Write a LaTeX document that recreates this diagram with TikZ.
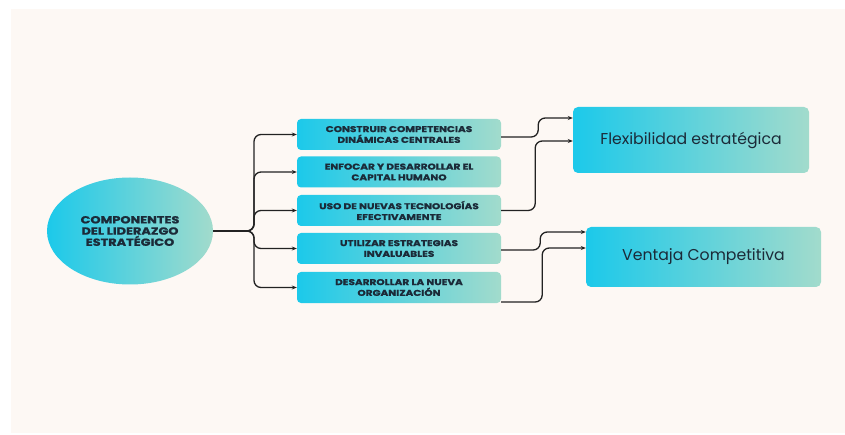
\documentclass[tikz,border=0pt]{standalone}
\usepackage{fontspec}
\setmainfont{Poppins}
\newfontfamily\heavy[FakeStretch=1.25,FakeBold=1.3]{Poppins}
\usetikzlibrary{arrows.meta,shapes.geometric}
\definecolor{cream}{HTML}{FDF8F4}
\definecolor{cyanL}{HTML}{1CC9EA}
\definecolor{mintR}{HTML}{A2DBCC}
\definecolor{ink}{HTML}{1B2A38}
\definecolor{wire}{HTML}{222222}
\begin{document}
\begin{tikzpicture}[x=1pt,y=-1pt,
  smallbox/.style={rectangle, rounded corners=4pt, minimum width=204pt, minimum height=31pt, inner sep=0pt,
    left color=cyanL, right color=mintR, align=center, text=ink,
    font=\heavy\bfseries\fontsize{8.4}{10.8}\selectfont},
  bigbox/.style={rectangle, rounded corners=5pt, inner sep=0pt,
    left color=cyanL, right color=mintR, align=center, text=ink,
    font=\fontsize{15.7}{18}\selectfont},
  hub/.style={ellipse, minimum width=166pt, minimum height=107pt, inner sep=0pt,
    left color=cyanL, right color=mintR, align=center, text=ink,
    font=\heavy\bfseries\fontsize{10.3}{11.2}\selectfont},
  conn/.style={draw=wire, line width=1.3pt, rounded corners=7pt,
    -{Stealth[length=5pt,width=4pt]}}
]
\useasboundingbox (0,0) rectangle (845,435);
\fill[white] (0,0) rectangle (845,435);
\fill[cream] (11,9) rectangle (845,433);

\node[hub] (ell) at (130,231) {COMPONENTES\\DEL LIDERAZGO\\ESTRATÉGICO};

\node[smallbox] (b1) at (399,134.5) {CONSTRUIR COMPETENCIAS\\DINÁMICAS CENTRALES};
\node[smallbox] (b2) at (399,172) {ENFOCAR Y DESARROLLAR EL\\CAPITAL HUMANO};
\node[smallbox] (b3) at (399,210.5) {USO DE NUEVAS TECNOLOGÍAS\\EFECTIVAMENTE};
\node[smallbox] (b4) at (399,248.5) {UTILIZAR ESTRATEGIAS\\INVALUABLES};
\node[smallbox] (b5) at (399,287.5) {DESARROLLAR LA NUEVA\\ORGANIZACIÓN};

\node[bigbox, minimum width=236pt, minimum height=66pt] (flex) at (691,140) {Flexibilidad estratégica};
\node[bigbox, minimum width=235pt, minimum height=60pt] (vent) at (703.5,257) {Ventaja Competitiva};

\coordinate (trunk) at (254,231);
\foreach \b in {b1,b2,b3,b4,b5}{
  \draw[conn] (ell.east) -- (trunk) |- (\b.west);
}

\draw[conn] ([yshift=-2.5pt]b1.east) -- ++(37,0) |- ([yshift=22pt]flex.west);
\draw[conn] (b3.east) -- ++(34,0) |- ([yshift=-1pt]flex.west);
\draw[conn] ([yshift=-1.5pt]b4.east) -- ++(39,0) |- ([yshift=25pt]vent.west);
\draw[conn] ([yshift=-14.5pt]b5.east) -- ++(41,0) |- ([yshift=9pt]vent.west);
\end{tikzpicture}
\end{document}
